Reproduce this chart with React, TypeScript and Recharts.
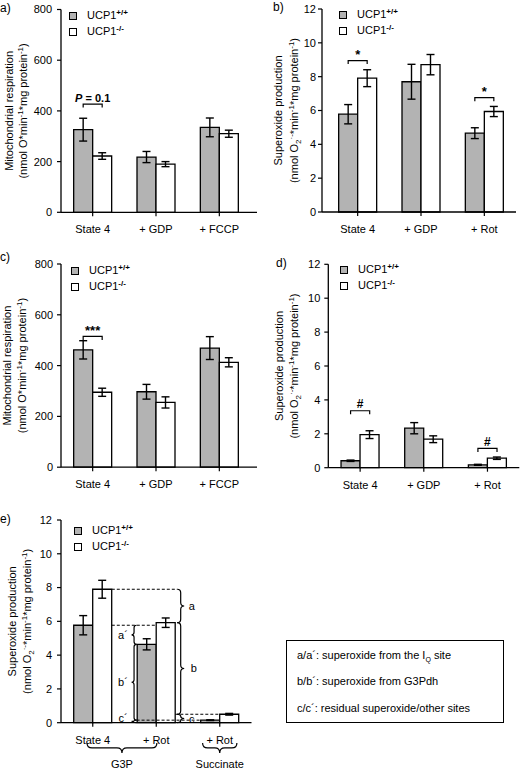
import React from 'react';
import { ComposedChart, Bar, XAxis, YAxis, ErrorBar, Legend, ReferenceLine, ReferenceDot } from 'recharts';

const FONT = '"Liberation Sans", Arial, Helvetica, sans-serif';
const GRAY = '#b3b3b3';
const INK = '#000';

// ---------- data ----------
const seriesNames = ['UCP1+/+', 'UCP1-/-'];
const respTicks = [0, 200, 400, 600, 800];
const superTicks = [0, 2, 4, 6, 8, 10, 12];

// panel a
const catsA = ['State 4', '+ GDP', '+ FCCP'];
const wtA = [326, 218, 335];
const wtErrA = [45, 22, 37];
const koA = [222, 190, 310];
const koErrA = [13, 10, 14];

// panel b
const catsB = ['State 4', '+ GDP', '+ Rot'];
const wtB = [5.78, 7.7, 4.66];
const wtErrB = [0.57, 1.03, 0.32];
const koB = [7.91, 8.71, 5.94];
const koErrB = [0.5, 0.6, 0.3];

// panel c
const catsC = ['State 4', '+ GDP', '+ FCCP'];
const wtC = [462, 297, 469];
const wtErrC = [36, 29, 45];
const koC = [295, 255, 413];
const koErrC = [16, 22, 18];

// panel d
const catsD = ['State 4', '+ GDP', '+ Rot'];
const wtD = [0.41, 2.33, 0.17];
const wtErrD = [0.04, 0.33, 0.03];
const koD = [1.95, 1.68, 0.56];
const koErrD = [0.23, 0.2, 0.07];

// panel e
const catsE = ['State 4', '+ Rot', '+ Rot'];
const wtE = [5.77, 4.64, 0.15];
const wtErrE = [0.57, 0.33, 0.02];
const koE = [7.9, 5.92, 0.5];
const koErrE = [0.53, 0.28, 0.05];

// significance brackets (x in category units: band i spans [i, i+1])
const sigA = [{ x1: 0.35, x2: 0.65, y: 427, label: 'P = 0.1' }];
const sigB = [
  { x1: 0.35, x2: 0.65, y: 8.95, label: '*' },
  { x1: 2.35, x2: 2.65, y: 6.76, label: '*' },
];
const sigC = [{ x1: 0.35, x2: 0.65, y: 515, label: '***' }];
const sigD = [
  { x1: 0.35, x2: 0.65, y: 3.36, label: '#' },
  { x1: 2.35, x2: 2.65, y: 1.14, label: '#' },
];

// panel e annotations
const dashE = [
  { x1: 0.8, x2: 1.83, y: 7.9 },
  { x1: 0.8, x2: 1.49, y: 5.77 },
  { x1: 1.19, x2: 2.19, y: 0.15 },
  { x1: 1.8, x2: 2.49, y: 0.5 },
];
const bracesE = [
  { x: 1.83, y1: 7.9, y2: 5.92, dir: 1 },
  { x: 1.83, y1: 5.92, y2: 0.5, dir: 1 },
  { x: 1.83, y1: 0.5, y2: 0, dir: 1 },
  { x: 1.19, y1: 5.77, y2: 4.64, dir: -1 },
  { x: 1.19, y1: 4.64, y2: 0.15, dir: -1 },
  { x: 1.19, y1: 0.15, y2: 0, dir: -1 },
];
const letterE = [
  { x: 2.06, y: 6.91, label: 'a' },
  { x: 2.09, y: 3.21, label: 'b' },
  { x: 2.06, y: 0.2, label: 'c' },
  { x: 0.976, y: 5.2, label: 'a´' },
  { x: 0.976, y: 2.4, label: 'b´' },
  { x: 0.976, y: 0.26, label: 'c´' },
];
const groupE = [
  { x1: 0.41, x2: 1.51, y: -1.2, label: 'G3P' },
  { x1: 2.23, x2: 2.77, y: -1.2, label: 'Succinate' },
];
const boxLines = ['a/a´: superoxide from the I', 'b/b´: superoxide from G3Pdh', 'c/c´: residual superoxide/other sites'];

const mk = (cats: string[], wt: number[], wtErr: number[], ko: number[], koErr: number[]) =>
  cats.map((c, i) => ({ id: i, cat: c, wt: wt[i], wtErr: wtErr[i], ko: ko[i], koErr: koErr[i] }));

// band-unit position of each category edge (0 .. n) for the annotation axis
const bandUnits = (d: any) => d.id * 1.5;

// ---------- shapes ----------
const bracketShape = (p: any) => (
  <path
    d={`M${p.x1},${p.y1 + 3.5}L${p.x1},${p.y1}L${p.x2},${p.y2}L${p.x2},${p.y2 + 3.5}`}
    fill="none"
    stroke={INK}
    strokeWidth={1.2}
  />
);

function bracePath(x1: number, y1: number, x2: number, y2: number, nx: number, ny: number, depth: number) {
  const L = Math.hypot(x2 - x1, y2 - y1) || 1;
  const tx = (x2 - x1) / L;
  const ty = (y2 - y1) / L;
  const h = depth / 2;
  const r = Math.min(depth / 2, L / 4);
  const mx = (x1 + x2) / 2;
  const my = (y1 + y2) / 2;
  const P = (x: number, y: number) => `${x.toFixed(2)},${y.toFixed(2)}`;
  return (
    `M${P(x1, y1)}` +
    `Q${P(x1 + nx * h, y1 + ny * h)} ${P(x1 + nx * h + tx * r, y1 + ny * h + ty * r)}` +
    `L${P(mx + nx * h - tx * r, my + ny * h - ty * r)}` +
    `Q${P(mx + nx * h, my + ny * h)} ${P(mx + nx * depth, my + ny * depth)}` +
    `Q${P(mx + nx * h, my + ny * h)} ${P(mx + nx * h + tx * r, my + ny * h + ty * r)}` +
    `L${P(x2 + nx * h - tx * r, y2 + ny * h - ty * r)}` +
    `Q${P(x2 + nx * h, y2 + ny * h)} ${P(x2, y2)}`
  );
}

const braceShape = (nx: number, ny: number, depth: number) => (p: any) => (
  <path d={bracePath(p.x1, p.y1, p.x2, p.y2, nx, ny, depth)} fill="none" stroke={INK} strokeWidth={1.2} />
);

const textShape = (content: React.ReactNode, dy: number, size: number, bold: boolean) => (p: any) => (
  <text
    x={p.cx}
    y={p.cy + dy}
    textAnchor="middle"
    fontFamily={FONT}
    fontSize={size}
    fontWeight={bold ? 'bold' : 'normal'}
    fill={INK}
  >
    {content}
  </text>
);

function sigMarks(list: { x1: number; x2: number; y: number; label: string }[], prefix: string) {
  return list.flatMap((s, i) => {
    let content: React.ReactNode = s.label;
    let dy = -1.5;
    let size = 13;
    if (s.label.startsWith('P')) {
      content = (
        <>
          <tspan fontStyle="italic">P</tspan>
          {' = 0.1'}
        </>
      );
      dy = -2.5;
      size = 11;
    } else if (s.label === '#') {
      dy = -2.4;
      size = 12;
    }
    return [
      <ReferenceLine
        key={`${prefix}l${i}`}
        xAxisId="n"
        segment={[{ x: s.x1, y: s.y }, { x: s.x2, y: s.y }]}
        ifOverflow="visible"
        shape={bracketShape}
      />,
      <ReferenceDot
        key={`${prefix}t${i}`}
        xAxisId="n"
        x={(s.x1 + s.x2) / 2}
        y={s.y}
        ifOverflow="visible"
        shape={textShape(content, dy, size, true)}
      />,
    ];
  });
}

function panelEMarks() {
  const out: React.ReactNode[] = [];
  dashE.forEach((d, i) =>
    out.push(
      <ReferenceLine
        key={`ed${i}`}
        xAxisId="n"
        segment={[{ x: d.x1, y: d.y }, { x: d.x2, y: d.y }]}
        ifOverflow="visible"
        stroke={INK}
        strokeWidth={1}
        strokeDasharray="3 2"
      />
    )
  );
  bracesE.forEach((b, i) =>
    out.push(
      <ReferenceLine
        key={`eb${i}`}
        xAxisId="n"
        segment={[{ x: b.x, y: b.y1 }, { x: b.x, y: b.y2 }]}
        ifOverflow="visible"
        shape={braceShape(b.dir, 0, b.dir > 0 ? 7 : 5)}
      />
    )
  );
  letterE.forEach((l, i) =>
    out.push(
      <ReferenceDot
        key={`el${i}`}
        xAxisId="n"
        x={l.x}
        y={l.y}
        ifOverflow="visible"
        shape={textShape(l.label, 4, 11, false)}
      />
    )
  );
  groupE.forEach((g, i) => {
    out.push(
      <ReferenceLine
        key={`eg${i}`}
        xAxisId="n"
        segment={[{ x: g.x1, y: g.y }, { x: g.x2, y: g.y }]}
        ifOverflow="visible"
        shape={braceShape(0, 1, 10)}
      />
    );
    out.push(
      <ReferenceDot
        key={`egl${i}`}
        xAxisId="n"
        x={(g.x1 + g.x2) / 2}
        y={g.y}
        ifOverflow="visible"
        shape={textShape(g.label, 25, 11, false)}
      />
    );
  });
  return out;
}

// ---------- labels ----------
const YLabel = (props: any) => {
  const { lx1, lx2, lcy, line1, o2 } = props;
  const sup = (s: string) => (
    <tspan dy={-4} fontSize={8}>
      {s}
    </tspan>
  );
  return (
    <g fontFamily={FONT} fontSize={11} fill={INK}>
      <text transform={`rotate(-90 ${lx1} ${lcy})`} x={lx1} y={lcy} textAnchor="middle">
        {line1}
      </text>
      <text transform={`rotate(-90 ${lx2} ${lcy})`} x={lx2} y={lcy} textAnchor="middle">
        {o2 ? (
          <>
            (nmol O
            <tspan dy={3} fontSize={8}>
              2
            </tspan>
            <tspan dy={-7} fontSize={8}>
              ·-
            </tspan>
            <tspan dy={4}>*min</tspan>
          </>
        ) : (
          <>(nmol O*min</>
        )}
        {sup('-1')}
        <tspan dy={4}>*mg protein</tspan>
        {sup('-1')}
        <tspan dy={4}>)</tspan>
      </text>
    </g>
  );
};

const LegendContent = (props: any) => {
  const payload = props.payload || [];
  return (
    <div style={{ fontFamily: FONT, fontSize: 11, color: INK }}>
      {payload.map((e: any, i: number) => {
        const name = String(e.value);
        return (
          <div key={i} style={{ display: 'flex', alignItems: 'center', height: 16, lineHeight: '16px', whiteSpace: 'nowrap' }}>
            <span
              style={{
                width: 8,
                height: 8,
                boxSizing: 'border-box',
                border: '1px solid #000',
                background: e.color,
                display: 'inline-block',
                marginRight: 10,
              }}
            />
            <span>
              {name.slice(0, 4)}
              <span style={{ fontSize: 8, fontWeight: 'bold', position: 'relative', top: -4 }}>{name.slice(4)}</span>
            </span>
          </div>
        );
      })}
    </div>
  );
};

type Cfg = {
  key: string;
  left: number;
  top: number;
  width: number;
  height: number;
  margin: { top: number; right: number; bottom: number; left: number };
  yAxisWidth: number;
  xAxisHeight: number;
  yTickMargin: number;
  padL: number;
  padR: number;
  cats: string[];
  data: any[];
  yMax: number;
  yTicks: number[];
  legend: { left: number; top: number };
  ylab: { x1: number; x2: number; line1: string; o2: boolean };
  extras: React.ReactNode[];
};

function Panel({ cfg }: { cfg: Cfg }) {
  const { margin, width, height, xAxisHeight, yAxisWidth } = cfg;
  const plotTop = margin.top;
  const plotBottom = height - margin.bottom - xAxisHeight;
  const cy = (plotTop + plotBottom) / 2;
  return (
    <div style={{ position: 'absolute', left: cfg.left, top: cfg.top, width, height }}>
      <ComposedChart width={width} height={height} data={cfg.data} margin={margin} barCategoryGap="20%" barGap={0}>
        <XAxis
          dataKey="id"
          type="category"
          tickFormatter={(v: any) => cfg.cats[Number(v)]}
          height={xAxisHeight}
          padding={{ left: cfg.padL, right: cfg.padR }}
          axisLine={{ stroke: INK, strokeWidth: 1.3 }}
          tickLine={{ stroke: INK, strokeWidth: 1.2 }}
          tickSize={4}
          tickMargin={9}
          interval={0}
          tick={{ fontSize: 11, fill: INK, fontFamily: FONT }}
        />
        <XAxis
          xAxisId="n"
          type="number"
          dataKey={bandUnits}
          domain={[0, 3]}
          allowDataOverflow
          hide
          padding={{ left: cfg.padL, right: cfg.padR }}
        />
        <YAxis
          domain={[0, cfg.yMax]}
          ticks={cfg.yTicks}
          interval={0}
          width={yAxisWidth}
          axisLine={{ stroke: INK, strokeWidth: 1.3 }}
          tickLine={{ stroke: INK, strokeWidth: 1.2 }}
          tickSize={4}
          tickMargin={cfg.yTickMargin}
          tick={{ fontSize: 11, fill: INK, fontFamily: FONT }}
          label={<YLabel lx1={cfg.ylab.x1} lx2={cfg.ylab.x2} lcy={cy} line1={cfg.ylab.line1} o2={cfg.ylab.o2} />}
        />
        <Legend
          layout="horizontal"
          verticalAlign="middle"
          align="center"
          wrapperStyle={{ left: cfg.legend.left, top: cfg.legend.top, width: 110, height: 32 }}
          content={LegendContent}
        />
        <Bar dataKey="wt" name={seriesNames[0]} fill={GRAY} stroke={INK} strokeWidth={1.3} isAnimationActive={false}>
          <ErrorBar dataKey="wtErr" width={4} stroke={INK} strokeWidth={1.4} direction="y" isAnimationActive={false} />
        </Bar>
        <Bar dataKey="ko" name={seriesNames[1]} fill="#ffffff" stroke={INK} strokeWidth={1.3} isAnimationActive={false}>
          <ErrorBar dataKey="koErr" width={4} stroke={INK} strokeWidth={1.4} direction="y" isAnimationActive={false} />
        </Bar>
        {cfg.extras}
      </ComposedChart>
    </div>
  );
}

const RESP = 'Mitochondrial respiration';
const SUPER = 'Superoxide production';

const panels: Cfg[] = [
  {
    key: 'a', left: 0, top: 0, width: 260, height: 250,
    margin: { top: 9.5, right: 3, bottom: 7.7, left: 21 }, yAxisWidth: 40, xAxisHeight: 30, yTickMargin: 5,
    padL: 0, padR: 6, cats: catsA, data: mk(catsA, wtA, wtErrA, koA, koErrA), yMax: 800, yTicks: respTicks,
    legend: { left: 69, top: 7.7 }, ylab: { x1: 12.7, x2: 27, line1: RESP, o2: false }, extras: sigMarks(sigA, 'a'),
  },
  {
    key: 'b', left: 260, top: 0, width: 260, height: 250,
    margin: { top: 9, right: 4, bottom: 8, left: 22 }, yAxisWidth: 40, xAxisHeight: 30, yTickMargin: 2,
    padL: 4, padR: 0, cats: catsB, data: mk(catsB, wtB, wtErrB, koB, koErrB), yMax: 12, yTicks: superTicks,
    legend: { left: 79, top: 6.7 }, ylab: { x1: 21.7, x2: 37.5, line1: SUPER, o2: true }, extras: sigMarks(sigB, 'b'),
  },
  {
    key: 'c', left: 0, top: 250, width: 260, height: 250,
    margin: { top: 14, right: 3, bottom: 2.8, left: 21 }, yAxisWidth: 40, xAxisHeight: 30, yTickMargin: 4,
    padL: 0, padR: 6, cats: catsC, data: mk(catsC, wtC, wtErrC, koC, koErrC), yMax: 800, yTicks: respTicks,
    legend: { left: 71, top: 13.3 }, ylab: { x1: 11, x2: 26, line1: RESP, o2: false }, extras: sigMarks(sigC, 'c'),
  },
  {
    key: 'd', left: 260, top: 250, width: 260, height: 250,
    margin: { top: 14.3, right: 0.7, bottom: 2.3, left: 28.3 }, yAxisWidth: 40, xAxisHeight: 30, yTickMargin: 4,
    padL: 0, padR: 0, cats: catsD, data: mk(catsD, wtD, wtErrD, koD, koErrD), yMax: 12, yTicks: superTicks,
    legend: { left: 80, top: 12 }, ylab: { x1: 22.7, x2: 37.5, line1: SUPER, o2: true }, extras: sigMarks(sigD, 'd'),
  },
  {
    key: 'e', left: 0, top: 490, width: 260, height: 279,
    margin: { top: 30, right: 8.5, bottom: 16.3, left: 21 }, yAxisWidth: 40, xAxisHeight: 30, yTickMargin: 5,
    padL: 0, padR: 0, cats: catsE, data: mk(catsE, wtE, wtErrE, koE, koErrE), yMax: 12, yTicks: superTicks,
    legend: { left: 74, top: 32.7 }, ylab: { x1: 16, x2: 31.5, line1: SUPER, o2: true }, extras: panelEMarks(),
  },
];

const panelLetters = [
  { t: 'a)', left: 0, top: 1 },
  { t: 'b)', left: 273, top: 0 },
  { t: 'c)', left: 0, top: 250 },
  { t: 'd)', left: 276, top: 256 },
  { t: 'e)', left: 0, top: 512 },
];

export default function App() {
  return (
    <div style={{ position: 'absolute', left: 0, top: 0, width: 520, height: 769, background: '#fff', fontFamily: FONT, overflow: 'hidden' }}>
      {panels.map((p) => (
        <Panel key={p.key} cfg={p} />
      ))}
      {panelLetters.map((l) => (
        <div key={l.t} style={{ position: 'absolute', left: l.left, top: l.top, fontSize: 12, lineHeight: '14px', color: INK }}>
          {l.t}
        </div>
      ))}
      <div
        style={{
          position: 'absolute',
          left: 286,
          top: 640,
          width: 218,
          height: 83,
          boxSizing: 'border-box',
          border: '1px solid #000',
          fontSize: 11,
          color: INK,
        }}
      >
        {boxLines.map((line, i) => (
          <div key={i} style={{ position: 'absolute', left: 10, top: 7.5 + i * 26.5, lineHeight: '13px', whiteSpace: 'nowrap' }}>
            {line}
            {i === 0 ? (
              <>
                <span style={{ fontSize: 7, position: 'relative', top: 3 }}>Q</span> site
              </>
            ) : null}
          </div>
        ))}
      </div>
    </div>
  );
}
